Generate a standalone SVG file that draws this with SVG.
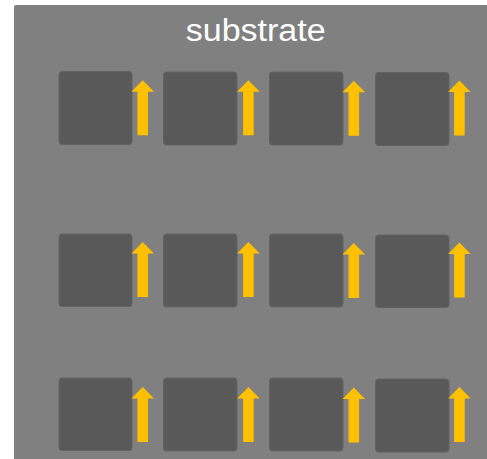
<svg xmlns="http://www.w3.org/2000/svg" width="487" height="459" viewBox="0 0 487 459">
<style>
.bg{fill:#808080}
.sq{fill:#595959;stroke:#626262;stroke-width:1}
.ar{fill:#FFC000}
.lbl{font-family:"Liberation Sans",Arial,sans-serif;font-size:31px;fill:#ffffff}
</style>
<defs>
<path id="arrow" d="M0,0 L11.3,11.5 L5.3,11.5 L5.3,55 L-5.3,55 L-5.3,11.5 L-11.3,11.5 Z"/>
</defs>
<g id="substrate">
<rect class="bg" x="14" y="5" width="480" height="460" rx="2"/>
<text class="lbl" x="255.7" y="40.5" text-anchor="middle" textLength="140" lengthAdjust="spacingAndGlyphs">substrate</text>
</g>
<g id="r1c1"><rect class="sq" x="59" y="71.5" width="73" height="73" rx="3"/><use href="#arrow" class="ar" x="142.7" y="80.3"/></g>
<g id="r1c2"><rect class="sq" x="163.5" y="72" width="73.5" height="73" rx="3"/><use href="#arrow" class="ar" x="248.4" y="80.3" transform="translate(0,0)"/></g>
<g id="r1c3"><rect class="sq" x="269.5" y="72" width="73.5" height="73" rx="3"/><use href="#arrow" class="ar" x="353.8" y="80.8"/></g>
<g id="r1c4"><rect class="sq" x="375.5" y="72.5" width="73.5" height="73" rx="3"/><use href="#arrow" class="ar" x="459.4" y="80.5"/></g>
<g id="r2c1"><rect class="sq" x="59" y="234" width="73" height="72.5" rx="3"/><use href="#arrow" class="ar" x="142.7" y="242"/></g>
<g id="r2c2"><rect class="sq" x="163.5" y="234" width="73.5" height="73" rx="3"/><use href="#arrow" class="ar" x="248.4" y="242"/></g>
<g id="r2c3"><rect class="sq" x="269.5" y="234" width="73.5" height="73" rx="3"/><use href="#arrow" class="ar" x="353.8" y="243"/></g>
<g id="r2c4"><rect class="sq" x="375.5" y="235" width="73.5" height="72.5" rx="3"/><use href="#arrow" class="ar" x="459.4" y="242.5"/></g>
<g id="r3c1"><rect class="sq" x="59" y="378" width="73" height="72.5" rx="3"/><use href="#arrow" class="ar" x="142.7" y="387"/></g>
<g id="r3c2"><rect class="sq" x="163.5" y="378" width="73.5" height="73" rx="3"/><use href="#arrow" class="ar" x="248.4" y="387"/></g>
<g id="r3c3"><rect class="sq" x="269.5" y="378" width="73.5" height="73" rx="3"/><use href="#arrow" class="ar" x="353.8" y="387.5"/></g>
<g id="r3c4"><rect class="sq" x="375.5" y="379" width="73.5" height="73" rx="3"/><use href="#arrow" class="ar" x="459.4" y="387"/></g>
<g id="connectors"></g>
</svg>
